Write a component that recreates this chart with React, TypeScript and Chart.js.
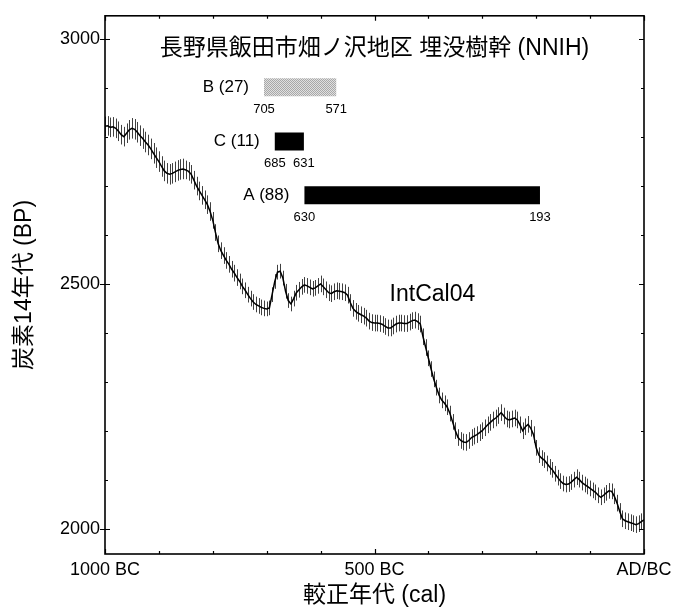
import React, { useEffect, useRef } from 'react';
import { Chart, registerables } from 'chart.js';

Chart.register(...registerables);

const FONT = '"Liberation Sans", Arial, "Noto Sans CJK JP", sans-serif';

const chartTitle = '長野県飯田市畑ノ沢地区 埋没樹幹 (NNIH)';
const xAxisTitle = '較正年代 (cal)';
const yAxisTitle = '炭素14年代 (BP)';
const curveName = 'IntCal04';

// IntCal04 curve: 1000 BC .. AD/BC every 5 years
const curveStartBC = 1000;
const curveStepYears = 5;
const curveBP = [
  2822, 2823, 2820, 2821, 2818, 2812, 2805, 2801, 2808, 2815,
  2818, 2816, 2810, 2803, 2797, 2790, 2784, 2776, 2767, 2758,
  2750, 2740, 2731, 2726, 2724, 2726, 2729, 2732, 2734, 2735,
  2733, 2730, 2724, 2712, 2700, 2690, 2681, 2672, 2662, 2648,
  2630, 2605, 2582, 2568, 2558, 2548, 2540, 2530, 2522, 2513,
  2505, 2495, 2487, 2478, 2470, 2463, 2458, 2455, 2452, 2450,
  2449, 2451, 2478, 2505, 2524, 2526, 2512, 2485, 2466, 2459,
  2470, 2482, 2488, 2494, 2498, 2496, 2493, 2490, 2492, 2496,
  2500, 2494, 2488, 2482, 2480, 2484, 2486, 2485, 2484, 2482,
  2477, 2462, 2450, 2444, 2440, 2437, 2434, 2430, 2424, 2421,
  2420, 2420, 2419, 2417, 2413, 2410, 2410, 2414, 2418, 2420,
  2420, 2419, 2419, 2422, 2425, 2426, 2423, 2418, 2392, 2370,
  2348, 2326, 2305, 2288, 2272, 2262, 2256, 2248, 2235, 2218,
  2200, 2186, 2180, 2177, 2176, 2180, 2186, 2189, 2192, 2196,
  2200, 2206, 2212, 2217, 2222, 2226, 2231, 2237, 2230, 2224,
  2222, 2224, 2226, 2222, 2212, 2200, 2208, 2213, 2205, 2192,
  2165, 2150, 2144, 2140, 2133, 2126, 2120, 2112, 2104, 2097,
  2092, 2090, 2091, 2095, 2100, 2105, 2100, 2094, 2090, 2086,
  2082, 2078, 2074, 2068, 2064, 2068, 2073, 2077, 2076, 2066,
  2052, 2035, 2020, 2016, 2014, 2012, 2010, 2008, 2010, 2014,
  2018,
];
// 1-sigma error (BP) for each 50-year block, from 1000 BC onward
const curveSigmaPer50y = [20, 21, 21, 19, 17, 16, 15, 16, 17, 17, 17, 17, 16, 17, 17, 17, 16, 16, 16, 17];

const curveYears = curveBP.map((_, i) => -(curveStartBC - i * curveStepYears));
const curveSigma = curveBP.map((_, i) => curveSigmaPer50y[Math.min(curveSigmaPer50y.length - 1, Math.floor(i / 10))]);

// Sample calibrated ranges
const sampleNames = ['B', 'C', 'A'];
const sampleCounts = [27, 11, 88];
const rangeOlderBC = [705, 685, 630];
const rangeYoungerBC = [571, 631, 193];
const sampleRowBP = [2902, 2791, 2681];

const xTickYears = [-1000, -500, 0];
const yTickBP = [2000, 2500, 3000];
const xMinorStep = 100;
const yMinorStep = 100;

const xTickLabel = (v: number) => (v === 0 ? 'AD/BC' : `${-v} BC`);

function makeStipple(): CanvasPattern | string {
  const c = document.createElement('canvas');
  c.width = 2;
  c.height = 2;
  const g = c.getContext('2d');
  if (!g) return '#cccccc';
  g.fillStyle = '#e0e0e0';
  g.fillRect(0, 0, 2, 2);
  g.fillStyle = '#a8a8a8';
  g.fillRect(0, 0, 1, 1);
  g.fillRect(1, 1, 1, 1);
  const p = g.createPattern(c, 'repeat');
  return p || '#cccccc';
}

const decorPlugin = {
  id: 'decor',
  beforeDatasetsDraw(chart: any) {
    const { ctx, chartArea } = chart;
    const ys = chart.scales.y;
    const meta = chart.getDatasetMeta(0);
    ctx.save();
    ctx.beginPath();
    ctx.rect(chartArea.left, chartArea.top, chartArea.right - chartArea.left, chartArea.bottom - chartArea.top);
    ctx.clip();
    ctx.strokeStyle = '#2a2a2a';
    ctx.lineWidth = 0.9;
    ctx.beginPath();
    meta.data.forEach((pt: any, i: number) => {
      const v = curveBP[i];
      const e = curveSigma[i];
      const x = Math.round(pt.x) + 0.5;
      ctx.moveTo(x, ys.getPixelForValue(v + e));
      ctx.lineTo(x, ys.getPixelForValue(v - e));
    });
    ctx.stroke();
    ctx.restore();
  },
  afterDraw(chart: any) {
    const { ctx, chartArea } = chart;
    const xs = chart.scales.x;
    const ys = chart.scales.y;
    const { left, right, top, bottom } = chartArea;
    ctx.save();
    // frame
    ctx.strokeStyle = '#000';
    ctx.lineWidth = 1.6;
    ctx.strokeRect(left, top, right - left, bottom - top);
    // ticks on all four sides
    ctx.lineWidth = 1.2;
    ctx.beginPath();
    for (let v = yTickBP[0]; v <= yTickBP[yTickBP.length - 1]; v += yMinorStep) {
      const y = Math.round(ys.getPixelForValue(v)) + 0.5;
      const major = yTickBP.includes(v);
      const len = major ? 5 : 3;
      ctx.moveTo(left - (major ? 5 : 0), y);
      ctx.lineTo(left + len, y);
      ctx.moveTo(right, y);
      ctx.lineTo(right - len, y);
    }
    for (let v = xTickYears[0]; v <= xTickYears[xTickYears.length - 1]; v += xMinorStep) {
      const x = Math.round(xs.getPixelForValue(v)) + 0.5;
      const major = xTickYears.includes(v);
      const len = major ? 5 : 3;
      ctx.moveTo(x, bottom);
      ctx.lineTo(x, bottom - len);
      ctx.moveTo(x, top);
      ctx.lineTo(x, top + len);
    }
    ctx.stroke();

    // title
    ctx.fillStyle = '#000';
    ctx.textBaseline = 'middle';
    ctx.textAlign = 'center';
    ctx.font = `23px ${FONT}`;
    ctx.fillText(chartTitle, (left + right) / 2, top + 33);

    // curve name
    ctx.textAlign = 'left';
    ctx.font = `23px ${FONT}`;
    ctx.fillText(curveName, xs.getPixelForValue(-472), ys.getPixelForValue(2478));

    // sample labels and range numbers
    sampleNames.forEach((name, i) => {
      const y = ys.getPixelForValue(sampleRowBP[i]);
      const x0 = xs.getPixelForValue(-rangeOlderBC[i]);
      const x1 = xs.getPixelForValue(-rangeYoungerBC[i]);
      ctx.font = `17px ${FONT}`;
      ctx.textAlign = 'right';
      ctx.fillText(`${name} (${sampleCounts[i]})`, x0 - 15, y);
      ctx.font = `13px ${FONT}`;
      ctx.textAlign = 'center';
      ctx.fillText(String(rangeOlderBC[i]), x0, y + 22);
      ctx.fillText(String(rangeYoungerBC[i]), x1, y + 22);
    });
    ctx.restore();
  },
};

export default function App() {
  const ref = useRef<HTMLCanvasElement | null>(null);

  useEffect(() => {
    const canvas = ref.current;
    if (!canvas) return;
    Chart.defaults.color = '#000';
    const stipple = makeStipple();
    const sampleColors = [stipple, '#000', '#000'];

    const sampleSets = sampleNames.map((name, i) => ({
      type: 'line' as const,
      label: name,
      data: [
        { x: -rangeOlderBC[i], y: sampleRowBP[i] },
        { x: -rangeYoungerBC[i], y: sampleRowBP[i] },
      ],
      borderColor: sampleColors[i],
      borderWidth: 18,
      borderCapStyle: 'butt' as const,
      pointRadius: 0,
      fill: false,
    }));

    const chart = new Chart(canvas, {
      type: 'line',
      data: {
        datasets: [
          {
            label: curveName,
            data: curveYears.map((x, i) => ({ x, y: curveBP[i] })),
            borderColor: '#000',
            borderWidth: 1.5,
            pointRadius: 0,
            tension: 0,
            fill: false,
          },
          ...sampleSets,
        ],
      },
      options: {
        responsive: false,
        devicePixelRatio: 1,
        animation: false,
        layout: { padding: { left: 0, right: 38, top: 11, bottom: 0 } },
        plugins: { legend: { display: false }, tooltip: { enabled: false } },
        scales: {
          x: {
            type: 'linear',
            min: -1000,
            max: 0,
            afterBuildTicks: (s: any) => {
              s.ticks = xTickYears.map((value) => ({ value }));
            },
            afterFit: (s: any) => {
              s.height = 53;
            },
            grid: { display: false, drawTicks: false },
            border: { display: false },
            ticks: {
              padding: 5,
              maxRotation: 0,
              autoSkip: false,
              font: { family: FONT, size: 18 },
              color: '#000',
              callback: (v: any) => xTickLabel(Number(v)),
            },
            title: {
              display: true,
              text: xAxisTitle,
              color: '#000',
              font: { family: FONT, size: 23, lineHeight: 1 },
              padding: { top: 0, bottom: 0 },
            },
          },
          y: {
            type: 'linear',
            min: 1948,
            max: 3048,
            afterBuildTicks: (s: any) => {
              s.ticks = yTickBP.map((value) => ({ value }));
            },
            afterFit: (s: any) => {
              s.width = 105;
            },
            grid: { display: false, drawTicks: false },
            border: { display: false },
            ticks: {
              padding: 5,
              autoSkip: false,
              font: { family: FONT, size: 18 },
              color: '#000',
              callback: (v: any) => String(v),
            },
            title: {
              display: true,
              text: yAxisTitle,
              color: '#000',
              font: { family: FONT, size: 23, lineHeight: 1 },
              padding: { top: 13, bottom: 0 },
            },
          },
        },
      },
      plugins: [decorPlugin],
    } as any);

    return () => chart.destroy();
  }, []);

  return (
    <div style={{ position: 'absolute', left: 0, top: 0, width: 682, height: 607, background: '#fff' }}>
      <canvas ref={ref} width={682} height={607} style={{ display: 'block' }} />
    </div>
  );
}
